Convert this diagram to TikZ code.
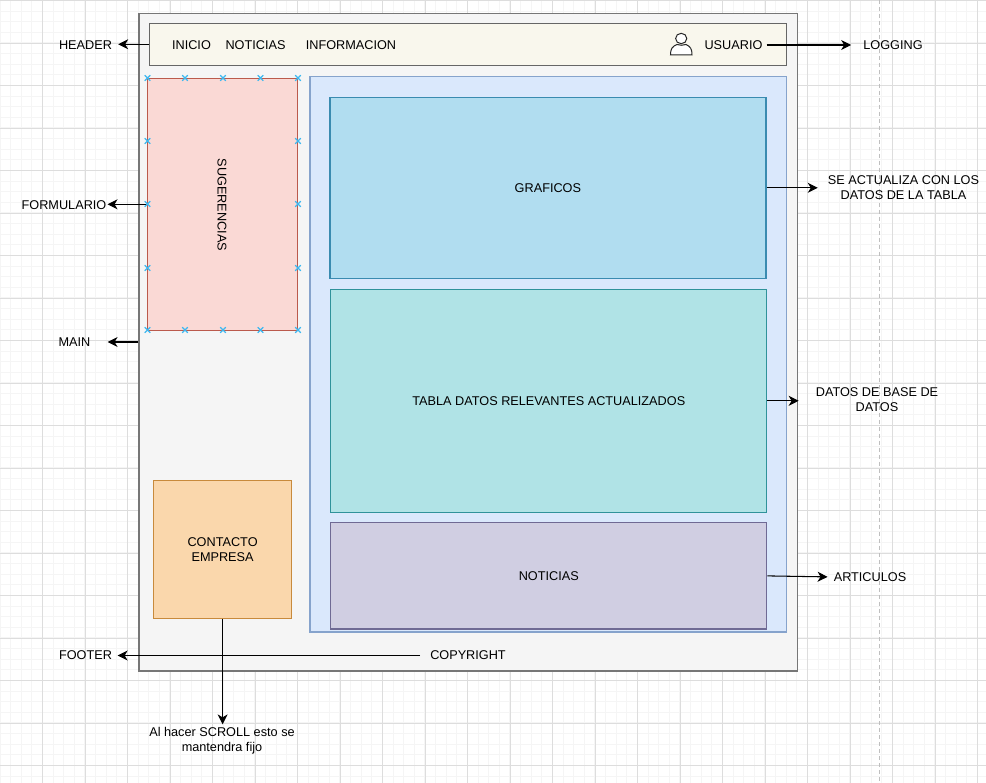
\documentclass[tikz,border=0pt]{standalone}
\usepackage{fontspec}
\setmainfont{Liberation Sans}
\usetikzlibrary{arrows.meta}
\definecolor{gridminor}{HTML}{F5F5F5}
\definecolor{gridmajor}{HTML}{DDDDDD}
\definecolor{crossblue}{HTML}{3DB8F0}
\definecolor{outerS}{HTML}{777777}\definecolor{outerF}{HTML}{F5F5F5}
\definecolor{hdrS}{HTML}{666666}\definecolor{hdrF}{HTML}{F9F7ED}
\definecolor{sugS}{HTML}{BB5A4C}\definecolor{sugF}{HTML}{FAD9D5}
\definecolor{mainS}{HTML}{86A3CC}\definecolor{mainF}{HTML}{DAE8FC}
\definecolor{grafS}{HTML}{3A8BB0}\definecolor{grafF}{HTML}{B1DDF0}
\definecolor{tabS}{HTML}{2F929A}\definecolor{tabF}{HTML}{B0E3E6}
\definecolor{notS}{HTML}{6F6A94}\definecolor{notF}{HTML}{D0CEE2}
\definecolor{conS}{HTML}{C88A3C}\definecolor{conF}{HTML}{FAD7AC}
\tikzset{
  box/.style={rectangle,inner sep=0pt,line width=1.35pt,align=center,font=\fontsize{12.7}{15}\selectfont},
  lbl/.style={inner sep=0pt,align=center,font=\fontsize{12.7}{15}\selectfont,text=black},
  conn/.style={draw=black,line width=1.05pt,-{Stealth[length=10pt,width=10pt,inset=3pt]}},
  cross/.style={draw=crossblue,line width=1.2pt}
}
\newcommand{\crossat}[2]{\draw[cross] (#1-2.8,#2-2.8) -- (#1+2.8,#2+2.8) (#1-2.8,#2+2.8) -- (#1+2.8,#2-2.8);}
\begin{document}
\begin{tikzpicture}[x=1pt,y=-1pt]
\useasboundingbox (0,0) rectangle (986,783);
\fill[white] (0,0) rectangle (986,783);
% grid
\foreach \i in {0,...,93} \draw[gridminor,line width=1.2pt] (\i*10.625,0) -- (\i*10.625,783);
\foreach \i in {0,...,74} \draw[gridminor,line width=1.2pt] (0,0.5+\i*10.625) -- (986,0.5+\i*10.625);
\foreach \i in {1,...,23} \draw[gridmajor,line width=0.9pt] (\i*42.5,0) -- (\i*42.5,783);
\foreach \i in {1,...,18} \draw[gridmajor,line width=0.9pt] (0,0.5+\i*42.5) -- (986,0.5+\i*42.5);
\draw[gridmajor,line width=1pt] (0,0.5) -- (986,0.5);
\draw[black!25,line width=1pt,dash pattern=on 4pt off 3pt] (879.5,0) -- (879.5,783);
% containers
\node[box,draw=outerS,fill=outerF,minimum width=658.5pt,minimum height=657.5pt] (outer) at (468.4,342.25) {};
\node[box,draw=hdrS,fill=hdrF,minimum width=637pt,minimum height=42pt] (hdr) at (468.3,44.3) {};
\node[box,draw=sugS,fill=sugF,minimum width=150pt,minimum height=252pt] (sug) at (222.6,204.3) {};
\node[lbl,rotate=-90] (sugt) at (222,205) {SUGERENCIAS};
\node[box,draw=mainS,fill=mainF,minimum width=476.5pt,minimum height=555.5pt] (main) at (548.4,354.3) {};
\node[box,draw=grafS,fill=grafF,minimum width=436pt,minimum height=181pt] (graf) at (547.9,187.8) {GRAFICOS};
\node[box,draw=tabS,fill=tabF,minimum width=436pt,minimum height=223pt] (tabla) at (548.8,400.8) {TABLA DATOS RELEVANTES ACTUALIZADOS};
\node[box,draw=notS,fill=notF,minimum width=436pt,minimum height=106.5pt] (noti) at (548.8,575.9) {NOTICIAS};
\node[box,draw=conS,fill=conF,minimum width=138pt,minimum height=138pt] (cont) at (222.6,549.3) {CONTACTO\\EMPRESA};
% header texts
\node[lbl] (inicio) at (191.5,45) {INICIO};
\node[lbl] (notmenu) at (255.5,45) {NOTICIAS};
\node[lbl] (info) at (351,45) {INFORMACION};
\node[lbl] (usuario) at (733.5,45) {USUARIO};
% user icon
\draw[black!85,line width=1pt,fill=white]
  (670.5,55) .. controls (670.5,49) and (672,46.5) .. (677,44.5)
  .. controls (680,45.5) and (683,45.5) .. (686,44.5)
  .. controls (690.5,46.5) and (692,49) .. (692,55) -- cycle;
\draw[black!85,line width=1pt,fill=white] (681.2,38.5) ellipse (5.6pt and 5.2pt);
% outer labels
\node[lbl] (lheader) at (85.5,45) {HEADER};
\node[lbl] (lform) at (64,205) {FORMULARIO};
\node[lbl] (lmain) at (74.5,342) {MAIN};
\node[lbl] (lfooter) at (85.5,655.5) {FOOTER};
\node[lbl] (lcopy) at (468,655.5) {COPYRIGHT};
\node[lbl] (llog) at (893,45) {LOGGING};
\node[lbl] (lgraf) at (903.5,188) {SE ACTUALIZA CON LOS\\DATOS DE LA TABLA};
\node[lbl] (ltabla) at (877,400) {DATOS DE BASE DE\\DATOS};
\node[lbl] (lart) at (870,577) {ARTICULOS};
\node[lbl] (lscroll) at (222,741) {Al hacer SCROLL esto se\\mantendra fijo};
% connectors
\draw[conn,shorten >=6pt] (hdr.west) -- (hdr.west -| lheader.east);
\draw[conn,shorten >=1pt] (sug.west) -- (sug.west -| lform.east);
\draw[conn,shorten >=17pt] (outer.west |- lmain.east) -- (lmain.east);
\draw[conn,shorten <=10pt,shorten >=5.5pt] (lcopy.west) -- (lfooter.east);
\draw[conn,shorten <=4pt,shorten >=12pt] (usuario.east) -- (usuario.east -| llog.west);
\draw[conn,shorten >=10pt] (graf.east) -- (graf.east -| lgraf.west);
\draw[conn,shorten >=17pt] (tabla.east) -- (tabla.east -| ltabla.west);
\draw[conn,shorten >=6pt] (noti.east) -- (lart.west);
\draw[conn,shorten >=3pt] (cont.south) -- (lscroll.north -| cont.south);
% connection markers
\foreach \x in {147.5,185,223,260.5,298} {\crossat{\x}{78}\crossat{\x}{330}}
\foreach \y in {141,204,268} {\crossat{147.5}{\y}\crossat{298}{\y}}
\end{tikzpicture}
\end{document}
